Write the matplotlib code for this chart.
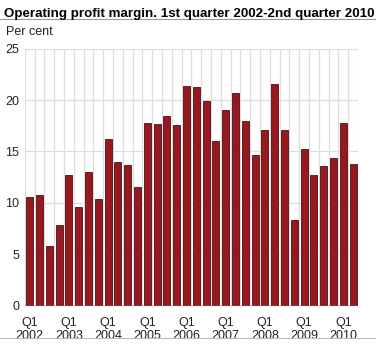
import matplotlib.pyplot as plt
import numpy as np

plt.rcParams['font.family'] = ['Liberation Sans', 'DejaVu Sans']

# quarterly operating profit margin, 2002 Q1 - 2010 Q2
years = [2002, 2003, 2004, 2005, 2006, 2007, 2008, 2009, 2010]
margin = [10.6, 10.8, 5.8, 7.8,
          12.7, 9.6, 13.0, 10.4,
          16.2, 14.0, 13.7, 11.5,
          17.8, 17.7, 18.4, 17.6,
          21.4, 21.3, 19.9, 16.0,
          19.0, 20.7, 18.0, 14.7,
          17.1, 21.6, 17.1, 8.3,
          15.2, 12.7, 13.6, 14.4,
          17.8, 13.8]
yticks = [0, 5, 10, 15, 20, 25]

fig = plt.figure(figsize=(3.76, 3.45), dpi=100)
ax = fig.add_axes([0.066, 0.114, 0.886, 0.745])

x = np.arange(len(margin))
ax.bar(x, margin, width=0.72, color='#981820', edgecolor='#4a1014', linewidth=0.6, zorder=3)

# grid lines between the bars and at each y tick
for b in np.arange(-0.5, len(margin), 1.0):
    ax.axvline(b, color='#dddde0', linewidth=0.9, zorder=1)
for t in yticks[1:]:
    ax.axhline(t, color='#dddde0', linewidth=0.9, zorder=1)

ax.set_xlim(-0.5, len(margin) - 0.5)
ax.set_ylim(0, 25)
ax.set_yticks(yticks)
ax.set_yticklabels([str(t) for t in yticks], fontsize=9, color='#222222')
ax.set_xticks(np.arange(0, len(margin), 4))
ax.set_xticklabels(['Q1\n' + str(y) for y in years], fontsize=9, color='#222222', linespacing=1.15)
ax.tick_params(axis='y', length=0, pad=4)
ax.tick_params(axis='x', length=0, pad=8)
for s in ax.spines.values():
    s.set_visible(False)
ax.axhline(0, color='#888888', linewidth=1, zorder=4)

fig.text(0.01, 0.978, 'Operating profit margin. 1st quarter 2002-2nd quarter 2010',
         fontsize=9.6, fontweight='bold', va='top', ha='left')
fig.add_artist(plt.Line2D([0, 1], [0.945, 0.945], color='#999999', linewidth=0.8))
fig.text(0.015, 0.907, 'Per cent', fontsize=9, va='center', ha='left', color='#222222')
fig.add_artist(plt.Line2D([0, 1], [0.02, 0.02], color='#bbbbbb', linewidth=0.8))

fig.savefig('out.png', dpi=100)
